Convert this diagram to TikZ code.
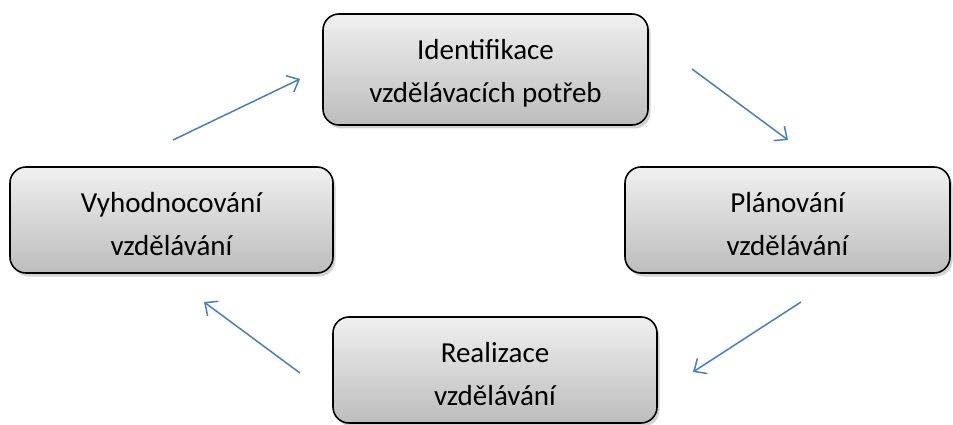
\documentclass[tikz,border=0pt]{standalone}
\usepackage{fontspec}
\setmainfont{Carlito}
\usetikzlibrary{arrows.meta,shadows}
\definecolor{arrowblue}{HTML}{4A7EBB}
\tikzset{
  stagebox/.style={draw=black, line width=1.6pt, rounded corners=16pt,
    top color=black!6, bottom color=black!26,
    drop shadow={shadow xshift=2.5pt, shadow yshift=-3.5pt, opacity=0.35},
    inner sep=0pt},
  stagetext/.style={align=center, font=\fontsize{29}{43}\selectfont, inner sep=0pt},
  flow/.style={draw=arrowblue, line width=1.5pt,
    -{Straight Barb[length=10pt, width=18pt, line width=1.5pt]}}
}
\begin{document}
\begin{tikzpicture}[x=1pt,y=-1pt]
\useasboundingbox (0,0) rectangle (953,425);
\node[stagebox, minimum width=325pt, minimum height=111pt] (ident) at (485.5,69.5) {};
\node[stagebox, minimum width=325pt, minimum height=106pt] (plan) at (787.5,220) {};
\node[stagebox, minimum width=324pt, minimum height=106pt] (real) at (495,370) {};
\node[stagebox, minimum width=323pt, minimum height=106pt] (eval) at (171.5,220) {};
\node[stagetext] (identt) at ([yshift=-4pt]ident.center) {Identifikace\\vzdělávacích potřeb};
\node[stagetext] (plant) at ([yshift=-4pt]plan.center) {Plánování\\vzdělávání};
\node[stagetext] (realt) at ([yshift=-4pt]real.center) {Realizace\\vzdělávání};
\node[stagetext] (evalt) at ([yshift=-4pt]eval.center) {Vyhodnocování\\vzdělávání};
\coordinate (a1s) at (173,140); \coordinate (a1e) at (300,79);
\coordinate (a2s) at (692,69);  \coordinate (a2e) at (788,140);
\coordinate (a3s) at (801,302); \coordinate (a3e) at (693,372);
\coordinate (a4s) at (300,373); \coordinate (a4e) at (204,302);
\draw[flow] (a1s) -- (a1e);
\draw[flow] (a2s) -- (a2e);
\draw[flow] (a3s) -- (a3e);
\draw[flow] (a4s) -- (a4e);
\end{tikzpicture}
\end{document}
